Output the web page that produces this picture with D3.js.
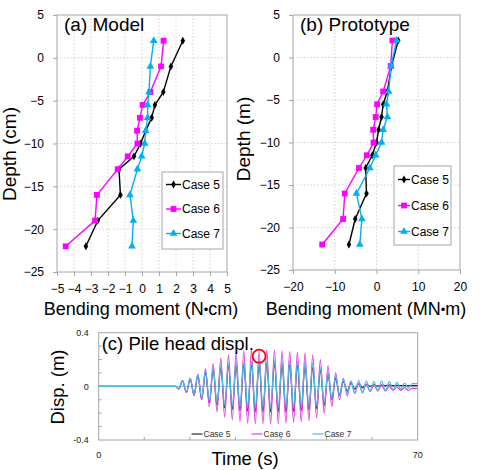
<!DOCTYPE html>
<html><head><meta charset="utf-8">
<script src="https://cdn.jsdelivr.net/npm/d3@7"></script>
<style>
html,body{margin:0;padding:0;background:#fff;}
svg{display:block;font-family:"Liberation Sans",Arial,sans-serif;}
</style></head><body>
<svg id="chart" width="480" height="470"></svg>
<script>
// ---- bending moment profiles ----
const depths = [2, -1, -4, -5.5, -7, -8.5, -10, -11.5, -13, -16, -19, -22];

const modelCase5 = [2.4, 1.7, 1.25, 0.76, 0.57, 0.22, -0.08, -0.47, -1.35, -1.27, -2.6, -3.3];
const modelCase6 = [1.27, 1.12, 0.49, 0.04, -0.12, -0.29, -0.27, -0.84, -1.43, -2.65, -2.76, -4.49];
const modelCase7 = [0.69, 0.49, 0.41, 0.33, 0.33, 0.22, 0.16, -0.02, -0.27, -0.71, -0.51, -0.59];

const protoCase5 = [5.2, 3.6, 2.6, 1.6, 1.2, 0.5, 0.0, -1.0, -2.6, -2.4, -5.1, -6.6];
const protoCase6 = [3.8, 3.4, 1.6, 0.15, -0.2, -0.8, -0.7, -2.3, -4.2, -7.6, -8.0, -13.0];
const protoCase7 = [4.8, 3.5, 2.9, 2.4, 2.6, 1.6, 1.2, -0.2, -1.6, -4.8, -3.5, -4.0];

const caseNames = ["Case 5", "Case 6", "Case 7"];
const modelTicksX = [-5, -4, -3, -2, -1, 0, 1, 2, 3, 4, 5];
const protoTicksX = [-20, -10, 0, 10, 20];
const depthTicks = [5, 0, -5, -10, -15, -20, -25];

// ---- pile head displacement history: successive peaks and troughs ----
const quietEnd = 16.9;                       // s, end of the still record
const peakTimes = d3.range(62).map(k => 17.56 + 0.84 * k);   // half-cycle grid (s)
const dispCase5 = [-0.02, 0.04, -0.045, 0.055, -0.065, 0.08, -0.095, 0.1, -0.12, 0.12,
  -0.14, 0.14, -0.16, 0.15, -0.17, 0.155, -0.18, 0.16, -0.185, 0.16,
  -0.19, 0.165, -0.19, 0.165, -0.19, 0.165, -0.19, 0.16, -0.19, 0.16,
  -0.185, 0.155, -0.18, 0.15, -0.175, 0.14, -0.165, 0.12, -0.14, 0.09,
  -0.1, 0.06, -0.06, 0.035, -0.035, 0.025, -0.02, 0.02, -0.01, 0.015,
  0.0, 0.012, 0.002, 0.01, 0.004, 0.01, 0.005, 0.008, 0.005, 0.006,
  0.005, 0.006];
const dispCase6 = [-0.02, 0.045, -0.045, 0.06, -0.07, 0.09, -0.1, 0.13, -0.15, 0.17,
  -0.19, 0.21, -0.23, 0.235, -0.25, 0.255, -0.265, 0.265, -0.275, 0.27,
  -0.28, 0.26, -0.28, 0.27, -0.28, 0.27, -0.28, 0.265, -0.275, 0.26,
  -0.27, 0.255, -0.265, 0.25, -0.255, 0.235, -0.235, 0.2, -0.2, 0.155,
  -0.15, 0.1, -0.1, 0.06, -0.07, 0.04, -0.05, 0.02, -0.045, 0.015,
  -0.04, 0.01, -0.035, 0.005, -0.035, 0.0, -0.03, -0.005, -0.03, -0.01,
  -0.03, -0.015];
const dispCase7 = [-0.02, 0.045, -0.04, 0.06, -0.06, 0.09, -0.085, 0.115, -0.105, 0.14,
  -0.12, 0.16, -0.135, 0.17, -0.145, 0.18, -0.15, 0.185, -0.15, 0.185,
  -0.155, 0.19, -0.155, 0.19, -0.155, 0.19, -0.155, 0.185, -0.155, 0.185,
  -0.15, 0.18, -0.15, 0.18, -0.145, 0.17, -0.14, 0.14, -0.12, 0.1,
  -0.09, 0.08, -0.07, 0.05, -0.05, 0.04, -0.055, 0.045, -0.05, 0.04,
  -0.035, 0.035, -0.03, 0.04, -0.03, 0.035, -0.025, 0.03, -0.02, 0.025,
  -0.015, 0.02];
const dispTicksY = [-0.4, 0, 0.4];
const timeLabels = [0, 70];
const highlight = { time: 35.2, disp: 0.225 };

const svg = d3.select("#chart");
svg.append("rect").attr("width", 480).attr("height", 470).attr("fill", "#fff");

const profileColors = ["#000000", "#ff00ff", "#00b0f0"];
const symbolTypes = [d3.symbolDiamond, d3.symbolSquare, d3.symbolTriangle];
const symbolSizes = [18, 34, 26];

function profilePanel(opt) {
  const x = d3.scaleLinear().domain(opt.xDomain).range([opt.left, opt.right]);
  const y = d3.scaleLinear().domain([-25, 5]).range([opt.bottom, opt.top]);
  const g = svg.append("g");

  // dotted grid
  g.append("g").selectAll("line").data(opt.gridX).join("line")
    .attr("x1", d => x(d)).attr("x2", d => x(d))
    .attr("y1", opt.top).attr("y2", opt.bottom)
    .attr("stroke", "#c8c8c8").attr("stroke-width", 0.8).attr("stroke-dasharray", "1.5,2");
  g.append("g").selectAll("line").data(depthTicks.slice(1, -1)).join("line")
    .attr("x1", opt.left).attr("x2", opt.right)
    .attr("y1", d => y(d)).attr("y2", d => y(d))
    .attr("stroke", "#c8c8c8").attr("stroke-width", 0.8).attr("stroke-dasharray", "1.5,2");

  g.append("rect").attr("x", opt.left).attr("y", opt.top)
    .attr("width", opt.right - opt.left).attr("height", opt.bottom - opt.top)
    .attr("fill", "none").attr("stroke", "#a6a6a6").attr("stroke-width", 1);

  const ax = g.append("g").attr("transform", `translate(0,${opt.bottom})`)
    .call(d3.axisBottom(x).tickValues(opt.ticksX).tickSize(4).tickPadding(8));
  const ay = g.append("g").attr("transform", `translate(${opt.left},0)`)
    .call(d3.axisLeft(y).tickValues(depthTicks).tickSize(4).tickPadding(9));
  [ax, ay].forEach(a => {
    a.select(".domain").remove();
    a.selectAll(".tick line").attr("stroke", "#a6a6a6");
    a.selectAll("text").attr("font-size", 12).attr("fill", "#000")
      .attr("font-family", "Liberation Sans, Arial, sans-serif");
  });

  const line = d3.line().x(d => x(d[0])).y(d => y(d[1]));
  opt.series.forEach((vals, i) => {
    const pts = vals.map((v, j) => [v, depths[j]]);
    g.append("path").datum(pts).attr("d", line)
      .attr("fill", "none").attr("stroke", profileColors[i]).attr("stroke-width", 1.4);
    g.append("g").selectAll("path").data(pts).join("path")
      .attr("transform", d => `translate(${x(d[0])},${y(d[1])})`)
      .attr("d", d3.symbol(symbolTypes[i], symbolSizes[i]))
      .attr("fill", profileColors[i]);
  });

  // legend
  const lg = g.append("g");
  lg.append("rect").attr("x", opt.legend.x).attr("y", opt.legend.y)
    .attr("width", opt.legend.w).attr("height", opt.legend.h)
    .attr("fill", "#fff").attr("stroke", "#a6a6a6").attr("stroke-width", 1);
  caseNames.forEach((name, i) => {
    const cy = opt.legend.y + opt.legend.first + i * opt.legend.step;
    const x0 = opt.legend.x + 4, x1 = x0 + opt.legend.sym;
    lg.append("line").attr("x1", x0).attr("x2", x1).attr("y1", cy).attr("y2", cy)
      .attr("stroke", profileColors[i]).attr("stroke-width", 1.4);
    lg.append("path").attr("transform", `translate(${(x0 + x1) / 2},${cy})`)
      .attr("d", d3.symbol(symbolTypes[i], symbolSizes[i])).attr("fill", profileColors[i]);
    lg.append("text").attr("x", x1 + 1).attr("y", cy + 4.3)
      .attr("font-size", 12).text(name);
  });

  // titles
  g.append("text").attr("x", opt.left + 7).attr("y", 31).attr("font-size", 19).text(opt.title);
  g.append("text").attr("transform", `translate(${opt.yTitleX},${opt.yTitleY}) rotate(-90)`)
    .attr("text-anchor", "middle").attr("font-size", 19).text(opt.yTitle);
  const xt = g.append("text").attr("x", opt.xTitleX).attr("y", 315)
    .attr("text-anchor", "middle").attr("font-size", 18);
  xt.append("tspan").text(opt.xTitle[0]);
  xt.append("tspan").attr("font-size", 13).attr("dy", -1.5).text("\u2022");
  xt.append("tspan").attr("dy", 1.5).text(opt.xTitle[1]);
}

profilePanel({
  xDomain: [-5, 5], left: 57, right: 227, top: 15, bottom: 272,
  ticksX: modelTicksX, gridX: modelTicksX.slice(1, -1),
  series: [modelCase5, modelCase6, modelCase7],
  legend: { x: 162, y: 172, w: 61, h: 77, first: 12.5, step: 24.5, sym: 15 },
  title: "(a) Model", yTitle: "Depth (cm)", yTitleX: 16, yTitleY: 154,
  xTitle: ["Bending moment (N", "cm)"], xTitleX: 141
});
profilePanel({
  xDomain: [-20, 20], left: 293, right: 460, top: 15, bottom: 270,
  ticksX: protoTicksX, gridX: protoTicksX.slice(1, -1),
  series: [protoCase5, protoCase6, protoCase7],
  legend: { x: 394, y: 166, w: 57, h: 79, first: 13.5, step: 26, sym: 12 },
  title: "(b) Prototype", yTitle: "Depth (m)", yTitleX: 250, yTitleY: 139,
  xTitle: ["Bending moment (MN", "m)"], xTitleX: 366
});

// ---- panel (c): time history ----
const cL = 98.7, cR = 417.7, cT = 332.7, cB = 440;
const xT = d3.scaleLinear().domain([0, 70]).range([cL, cR]);
const yD = d3.scaleLinear().domain([-0.4, 0.4]).range([cB, cT]);
const gc = svg.append("g");

gc.append("rect").attr("x", cL).attr("y", cT).attr("width", cR - cL).attr("height", cB - cT)
  .attr("fill", "none").attr("stroke", "#a6a6a6").attr("stroke-width", 1);
gc.append("line").attr("x1", cL).attr("x2", cR).attr("y1", yD(0)).attr("y2", yD(0))
  .attr("stroke", "#9aa6b8").attr("stroke-width", 0.8);

// inner tick marks
gc.append("g").selectAll("line").data(d3.range(-3, 4).map(i => i / 10)).join("line")
  .attr("x1", cL).attr("x2", cL + 3).attr("y1", d => yD(d)).attr("y2", d => yD(d))
  .attr("stroke", "#a6a6a6");
gc.append("g").selectAll("line").data(d3.range(10, 70, 10)).join("line")
  .attr("x1", d => xT(d)).attr("x2", d => xT(d)).attr("y1", cB).attr("y2", cB - 3)
  .attr("stroke", "#a6a6a6");

gc.append("g").selectAll("text").data(dispTicksY).join("text")
  .attr("x", cL - 10).attr("y", d => yD(d) + 3.2).attr("text-anchor", "end")
  .attr("font-size", 9).attr("fill", "#222").text(d => d === 0 ? "0" : d.toString());
gc.append("g").selectAll("text").data(timeLabels).join("text")
  .attr("x", d => xT(d)).attr("y", 458).attr("text-anchor", "middle")
  .attr("font-size", 9).attr("fill", "#222").text(d => d);

gc.append("defs").append("clipPath").attr("id", "clipC")
  .append("rect").attr("x", cL).attr("y", cT).attr("width", cR - cL).attr("height", cB - cT);

const dispColors = ["#2a2a2a", "#e040e0", "#45bde3"];
const dispLine = d3.line().x(d => xT(d[0])).y(d => yD(d[1])).curve(d3.curveMonotoneX);
[dispCase5, dispCase6, dispCase7].forEach((vals, i) => {
  const pts = [[0, 0], [quietEnd, 0]].concat(vals.map((v, k) => [peakTimes[k], v]));
  pts.push([70, vals[vals.length - 1]]);
  gc.append("path").datum(pts).attr("d", dispLine).attr("clip-path", "url(#clipC)")
    .attr("fill", "none").attr("stroke", dispColors[i]).attr("stroke-width", 1.2);
});

gc.append("circle").attr("cx", xT(highlight.time)).attr("cy", yD(highlight.disp)).attr("r", 6.5)
  .attr("fill", "none").attr("stroke", "#ff0000").attr("stroke-width", 1.8);

// legend along the bottom of the plot
const legendX = [191.5, 251.5, 312.5];
caseNames.forEach((name, i) => {
  gc.append("line").attr("x1", legendX[i]).attr("x2", legendX[i] + 11)
    .attr("y1", 434).attr("y2", 434).attr("stroke", dispColors[i]).attr("stroke-width", 1.2);
  gc.append("text").attr("x", legendX[i] + 12).attr("y", 437.2)
    .attr("font-size", 8.5).attr("fill", "#333").text(name);
});

gc.append("text").attr("x", cL + 3).attr("y", 350).attr("font-size", 18.5).text("(c) Pile head displ.");
gc.append("text").attr("transform", `translate(64,387) rotate(-90)`)
  .attr("text-anchor", "middle").attr("font-size", 18.5).text("Disp. (m)");
gc.append("text").attr("x", 245).attr("y", 465).attr("text-anchor", "middle")
  .attr("font-size", 18.5).text("Time (s)");
</script>
</body></html>
